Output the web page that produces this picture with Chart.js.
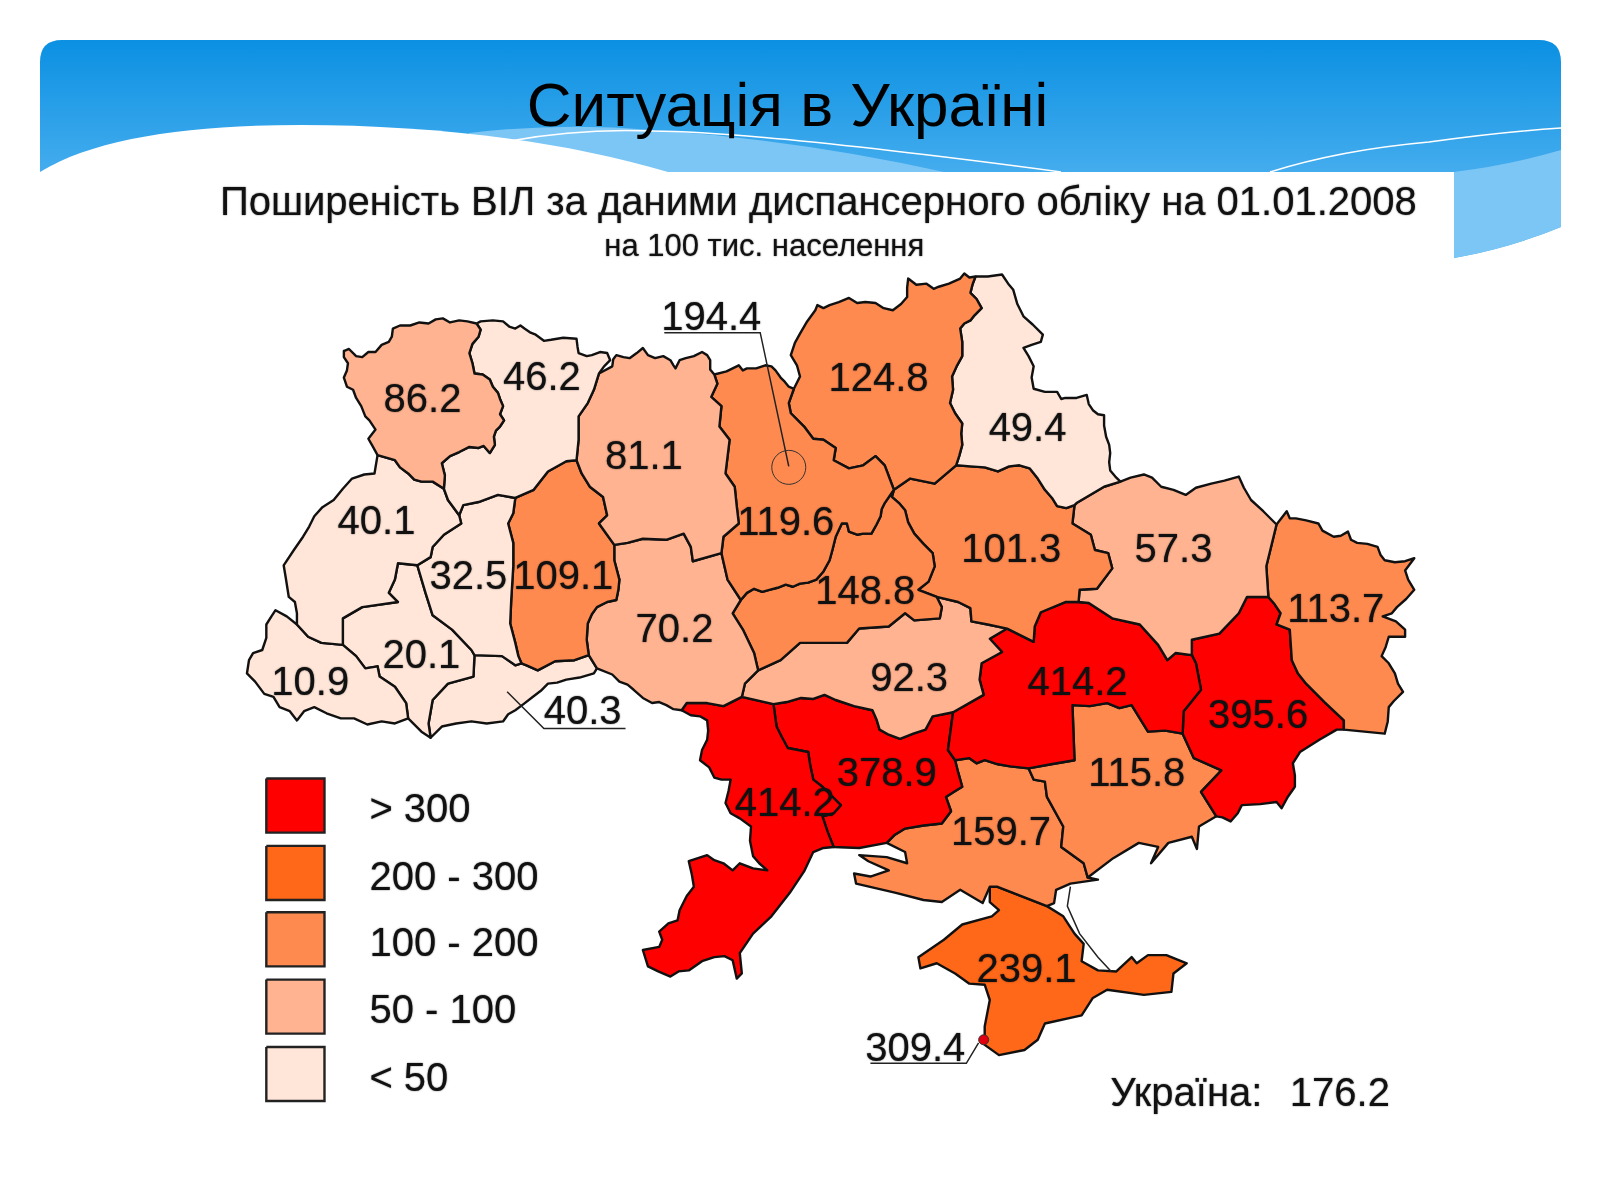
<!DOCTYPE html>
<html lang="uk">
<head>
<meta charset="utf-8">
<title>Ситуація в Україні</title>
<script src="https://cdn.jsdelivr.net/npm/chart.js@4"></script>
<style>
    html, body { margin: 0; padding: 0; background: #fff; }
    #stage { position: relative; width: 1600px; height: 1200px; overflow: hidden; }
    #banner, #map { position: absolute; left: 0; top: 0; }
    #title { position: absolute; left: 0; width: 1575px; top: 69px; text-align: center; color: #000;
             font: 62px "Liberation Sans", Arial, sans-serif; }
</style>
</head>
<body>
<div id="stage">
    <svg id="banner" width="1600" height="1200" viewBox="0 0 1600 1200">
        <defs>
            <linearGradient id="sky" x1="0" y1="40" x2="0" y2="175" gradientUnits="userSpaceOnUse">
                <stop offset="0" stop-color="#0b90e2"/>
                <stop offset="1" stop-color="#45adee"/>
            </linearGradient>
        </defs>
        <!-- fond bleu -->
        <path fill="url(#sky)" d="M40 172 V62 Q40 40 62 40 H1539 Q1561 40 1561 62 V227 Q1510 248 1454 258 V172 Z"/>
        <!-- vagues claires -->
        <path fill="#7cc6f5" d="M469 133 Q560 122 653 130 Q800 140 944 172 H469 Z"/>
        <path fill="#7cc6f5" d="M1454 172 Q1510 165 1561 150 V227 Q1510 248 1454 258 Z"/>
        <path fill="none" stroke="#fff" stroke-width="1.5" d="M510 141 Q580 128 653 131 Q760 132 1061 172"/>
        <path fill="none" stroke="#fff" stroke-width="1.5" d="M1270 172 Q1340 150 1429 142 Q1500 132 1561 128"/>
        <path fill="#fff" d="M40 172 C95 138 190 125 301 125 C430 125 560 140 668 172 Z"/>
        <rect x="40" y="172" width="1414" height="90" fill="#fff"/>
    </svg>
    <div id="title">Ситуація в Україні</div>
    <canvas id="map" width="1600" height="1200"></canvas>
</div>

<script>
const regionNames = ['Volyn', 'Rivne', 'Zhytomyr', 'Kyiv', 'Chernihiv', 'Sumy', 'Lviv', 'Ternopil', 'Khmelnytskyi',
    'Vinnytsia', 'Cherkasy', 'Poltava', 'Kharkiv', 'Luhansk', 'Zakarpattia', 'Ivano-Frankivsk', 'Chernivtsi',
    'Kirovohrad', 'Dnipropetrovsk', 'Donetsk', 'Odesa', 'Mykolaiv', 'Zaporizhzhia', 'Kherson', 'Crimea'];
const regionValues = [86.2, 46.2, 81.1, 119.6, 124.8, 49.4, 40.1, 32.5, 109.1,
    70.2, 148.8, 101.3, 57.3, 113.7, 10.9, 20.1, 40.3,
    92.3, 414.2, 395.6, 414.2, 378.9, 115.8, 159.7, 239.1];
const kyivCityValue = 194.4;
const sevastopolValue = 309.4;
const ukraineValue = 176.2;
const legendLabels = ['> 300', '200 - 300', '100 - 200', '50 - 100', '< 50'];
const binFloors = [300, 200, 100, 50, 0];
const binColors = ['#ff0000', '#ff6719', '#ff8a50', '#ffb391', '#ffe6d9'];

// Géométrie : frontières partagées (repère de la carte, 1568 x 1176)
const arcs = {
    vn: [[467,317],[458,315],[450,314],[441,316],[434,312],[427,313],[420,317],[411,316],[402,319],[392,319],[385,322],[384,330],[381,335],[374,338],[368,345],[361,345],[355,350],[349,349],[342,342],[337,344],[337,350],[341,356],[340,363],[337,370],[340,379],[346,382],[349,390],[354,398],[358,408],[362,412],[368,421],[361,430],[365,437],[370,446]],
    vr: [[467,317],[471,323],[469,330],[463,337],[460,346],[463,356],[465,366],[473,367],[480,372],[483,379],[488,385],[490,391],[493,398],[490,406],[494,412],[490,418],[486,422],[484,428],[485,436],[480,444],[474,437],[469,439],[460,438],[450,443],[441,447],[433,454],[436,466],[435,479]],
    vl: [[370,446],[387,451],[392,458],[400,464],[406,470],[413,472],[424,472],[435,479]],
    rn: [[467,317],[471,315],[483,314],[493,315],[499,320],[505,322],[510,319],[514,322],[520,326],[525,328],[533,334],[540,333],[552,331],[565,332],[566,340],[567,346],[575,349],[580,348],[588,345],[595,346],[598,353],[592,359],[587,366]],
    rz: [[587,366],[582,382],[576,395],[567,408],[567,431],[565,451]],
    rk: [[565,451],[555,452],[537,462],[523,480],[505,488]],
    rt: [[505,488],[488,485],[469,492],[454,495],[450,505]],
    rl: [[450,505],[439,490],[435,479]],
    zn: [[587,366],[600,359],[601,352],[604,348],[611,350],[617,351],[624,346],[630,341],[635,348],[642,351],[650,349],[657,353],[660,358],[662,361],[666,353],[672,351],[680,349],[688,345],[693,348],[696,353],[696,362],[700,367]],
    zky: [[700,367],[703,376],[697,389],[707,398],[705,418],[715,431],[711,464],[720,477],[722,496],[724,513],[709,526],[707,542]],
    zv: [[707,542],[679,550],[677,536],[670,523],[653,529],[630,528],[615,532],[602,534]],
    zk: [[565,451],[570,464],[578,477],[591,487],[595,505],[587,513],[602,534]],
    kt: [[505,488],[503,503],[498,513],[503,532],[503,555],[501,588],[500,611],[505,630],[508,643],[511,650]],
    kv: [[602,534],[602,549],[607,568],[606,578],[604,588],[595,590],[585,595],[580,602],[576,611],[575,627],[577,642]],
    kc: [[577,642],[563,647],[544,648],[527,657],[516,652],[511,650]],
    tl: [[450,505],[452,513],[435,524],[424,536],[422,546],[409,554]],
    tf: [[409,554],[417,581],[424,603],[443,617],[462,637],[465,642]],
    tc: [[465,642],[492,643],[505,652],[511,650]],
    lf: [[409,554],[390,552],[387,568],[381,581],[390,590],[355,595],[336,606],[336,632]],
    lz: [[291,612],[302,624],[315,630],[336,632]],
    lw: [[370,446],[367,464],[357,465],[345,469],[336,479],[327,490],[316,497],[308,506],[303,516],[297,526],[288,539],[278,554],[280,566],[283,585],[289,590],[291,601],[291,612]],
    zko: [[291,612],[281,604],[270,598],[266,604],[261,612],[261,625],[257,637],[248,640],[244,647],[242,660],[250,668],[259,680],[268,683],[274,693],[284,697],[291,706],[298,697],[308,693],[320,699],[334,704],[347,704],[360,710],[374,707],[387,709],[400,704]],
    zf: [[336,632],[349,643],[358,655],[370,653],[372,663],[387,673],[398,689],[400,704]],
    fc: [[465,642],[464,663],[439,670],[424,686],[420,709],[422,723]],
    fb: [[400,704],[413,717],[422,723]],
    co: [[422,723],[433,712],[447,709],[462,707],[477,709],[493,707],[498,700],[505,696],[513,690],[522,683],[530,677],[537,670],[546,669],[555,666],[568,664],[582,660],[585,655]],
    cv: [[577,642],[585,655]],
    vo: [[585,655],[600,661],[607,668],[615,671],[621,676],[630,684],[639,689],[646,688],[653,691],[660,695],[668,696]],
    vod: [[668,696],[673,689],[693,689],[709,692],[727,683]],
    vkr: [[727,683],[730,670],[743,657]],
    vck: [[726,588],[718,601],[728,617],[739,640],[743,657]],
    kyv: [[707,542],[713,568],[726,588]],
    kyn: [[700,367],[712,364],[724,358],[728,363],[732,361],[741,361],[750,358],[756,359],[760,363],[765,370],[769,374],[773,379],[778,381]],
    kych: [[778,381],[773,395],[775,405],[788,418],[797,430],[807,431],[819,439],[817,451],[832,459],[846,456],[858,447],[867,456],[876,480]],
    kyc: [[726,588],[732,581],[739,577],[747,580],[754,578],[762,576],[770,573],[777,575],[784,572],[792,571],[800,568],[807,560],[813,549],[816,538],[819,526],[825,513],[830,513],[832,521],[840,524],[846,523],[854,523],[859,514],[863,506],[864,499],[867,493],[876,480]],
    chn: [[778,381],[784,369],[781,358],[775,348],[779,336],[784,327],[791,315],[799,304],[801,299],[807,302],[813,299],[822,296],[832,292],[840,297],[848,296],[858,297],[866,302],[875,304],[883,298],[889,291],[889,282],[890,273],[898,279],[908,278],[915,283],[920,281],[930,278],[941,273],[945,268],[950,272],[956,271]],
    chs: [[956,271],[953,279],[951,287],[957,293],[962,302],[955,309],[951,314],[945,317],[941,322],[943,335],[943,349],[938,358],[933,369],[934,382],[931,395],[936,405],[943,415],[942,425],[943,436],[940,447],[937,456]],
    chp: [[937,456],[916,474],[892,469],[876,480]],
    su: [[956,271],[968,271],[982,269],[988,278],[993,284],[997,298],[1003,310],[1012,318],[1022,328],[1020,335],[1011,338],[1003,341],[1008,349],[1013,359],[1011,370],[1013,381],[1024,384],[1036,384],[1040,391],[1044,390],[1055,390],[1065,387],[1067,396],[1071,402],[1076,406],[1082,407],[1082,417],[1084,428],[1087,436],[1088,444],[1087,453],[1088,461],[1093,467],[1098,472]],
    skh: [[1098,472],[1082,477],[1055,493],[1053,495]],
    spo: [[1053,495],[1045,498],[1036,496],[1031,488],[1024,480],[1017,469],[1009,459],[999,456],[989,457],[978,462],[965,458],[951,457],[937,456]],
    pkh: [[1053,495],[1051,513],[1069,524],[1073,539],[1086,542],[1090,557],[1075,577],[1058,578],[1057,590]],
    pd: [[1057,590],[1044,590],[1020,600],[1014,614],[1013,629],[987,616]],
    pk: [[987,616],[968,612],[952,609],[951,596],[939,590],[918,585]],
    pc: [[876,480],[874,487],[881,493],[887,500],[890,512],[896,523],[905,533],[914,542],[916,555],[910,570],[900,578],[918,585]],
    ckk: [[918,585],[923,595],[921,606],[896,608],[887,601],[871,614],[842,616],[830,630],[807,630],[784,630],[765,647],[743,657]],
    krd: [[987,616],[970,626],[982,639],[962,650],[960,666],[964,681],[934,698]],
    krm: [[934,698],[914,702],[907,715],[895,719],[882,724],[871,720],[862,715],[859,705],[855,696],[837,692],[819,686],[808,681],[797,685],[785,684],[771,688],[758,690]],
    kro: [[758,690],[727,683]],
    omy: [[758,690],[761,712],[766,722],[772,733],[782,735],[792,737],[794,750],[797,764],[806,771],[824,789],[817,797],[806,800],[811,815],[817,830]],
    oc: [[668,696],[677,701],[686,702],[693,706],[694,716],[693,725],[688,735],[686,745],[695,752],[700,762],[707,764],[716,764],[714,775],[711,787],[716,797],[725,802],[736,810],[735,824],[738,839],[744,846],[752,853],[738,851],[725,846],[718,853],[709,846],[700,843],[693,838],[675,844],[678,857],[680,869],[673,878],[666,892],[664,902],[655,905],[646,913],[649,921],[646,928],[630,931],[635,947],[645,952],[657,957],[665,952],[675,951],[688,942],[700,938],[710,937],[718,941],[722,959],[727,954],[725,934],[738,915],[756,898],[774,875],[788,854],[797,835],[807,831],[817,830]],
    myc: [[817,830],[842,831],[869,826]],
    myh: [[869,826],[877,818],[887,812],[905,809],[923,807],[932,795],[927,781],[935,776],[943,771],[939,757],[936,745]],
    myd: [[936,745],[929,735],[934,698]],
    dh: [[936,745],[950,743],[957,748],[965,745],[978,749],[990,751],[1008,753]],
    dz: [[1008,753],[1030,749],[1053,745],[1052,718],[1051,691],[1068,692],[1085,689],[1097,694],[1109,691],[1117,704],[1125,717],[1142,716],[1159,719]],
    ddo: [[1159,719],[1160,697],[1177,676],[1172,650],[1168,642]],
    dkh: [[1168,642],[1152,640],[1144,647],[1135,632],[1117,612],[1090,606],[1067,591],[1057,590]],
    kho: [[1098,472],[1108,468],[1121,465],[1129,468],[1138,477],[1150,480],[1162,485],[1172,478],[1187,474],[1200,471],[1214,467],[1219,478],[1226,490],[1238,501],[1251,514]],
    khl: [[1251,514],[1241,555],[1243,585]],
    khd: [[1243,585],[1222,585],[1214,601],[1195,621],[1168,627],[1168,642]],
    lo: [[1251,514],[1261,501],[1264,508],[1270,508],[1280,510],[1292,513],[1296,520],[1307,526],[1314,525],[1321,521],[1324,529],[1330,532],[1340,533],[1350,536],[1353,544],[1357,549],[1367,551],[1377,550],[1386,547],[1377,559],[1380,568],[1386,578],[1378,587],[1369,595],[1364,601],[1355,604],[1368,609],[1377,617],[1377,624],[1361,624],[1358,634],[1354,643],[1361,650],[1367,660],[1370,670],[1375,678],[1366,687],[1361,693],[1360,707],[1357,719],[1337,717],[1317,715]],
    ld: [[1317,715],[1317,706],[1298,688],[1280,670],[1272,660],[1266,647],[1265,632],[1264,617],[1251,612],[1255,601],[1249,592],[1243,585]],
    doc: [[1317,715],[1310,715],[1293,725],[1274,737],[1267,748],[1269,760],[1269,771],[1262,781],[1256,792],[1251,786],[1235,788],[1217,789],[1213,797],[1206,805],[1198,801],[1192,800]],
    dzp: [[1192,800],[1177,776],[1197,755],[1170,743],[1159,719]],
    zc: [[1192,800],[1175,810],[1173,832],[1168,820],[1145,826],[1128,846],[1135,830],[1116,826],[1091,841],[1066,860]],
    zh: [[1066,860],[1062,846],[1040,830],[1042,810],[1026,781],[1024,766],[1013,764],[1008,753]],
    hc: [[869,826],[887,835],[889,846],[869,840],[842,838],[851,844],[871,853],[853,859],[837,856],[839,866],[878,875],[905,882],[923,884],[941,872],[963,885],[970,869]],
    hcr: [[970,869],[977,869],[1026,888]],
    he: [[1026,888],[1033,885],[1035,872],[1049,866],[1076,862],[1066,860]],
    cr: [[1026,888],[1042,898],[1053,915],[1062,925],[1060,942],[1076,951],[1094,952],[1109,938],[1114,944],[1125,936],[1143,936],[1163,944],[1150,954],[1148,972],[1121,975],[1085,970],[1071,978],[1060,995],[1024,1003],[1017,1019],[1004,1029],[979,1034],[965,1024],[965,1006],[970,980],[965,965],[950,964],[936,954],[918,944],[902,949],[900,938],[925,921],[943,906],[972,898],[979,892],[970,884],[970,869]]
};

// Contour de chaque région : suite de frontières, "~" = sens inverse
const regionRings = [
    'vn vl ~vr',
    'rn rz rk rt rl ~vr',
    'zn zky zv ~zk ~rz',
    'kyn kych ~kyc ~kyv ~zky',
    'chn chs chp ~kych',
    'su skh spo ~chs',
    'lw lz ~lf ~tl rl ~vl',
    'rt tl tf tc ~kt',
    'zk kv kc ~kt ~rk',
    '~zv kyv vck ~vkr ~vod ~vo ~cv ~kv',
    'kyc pc ckk ~vck',
    '~chp ~spo pkh pd pk ~pc',
    'kho khl khd dkh ~pkh ~skh',
    'lo ld ~khl',
    'zko ~zf ~lz',
    'tf fc ~fb ~zf ~lf',
    'tc ~kc cv ~co ~fc',
    '~ckk ~pk krd krm kro vkr',
    'pd krd ~myd dh dz ddo dkh',
    '~ld doc dzp ddo ~khd',
    'oc ~omy kro ~vod',
    '~krm ~myd ~myh ~myc ~omy',
    'dz ~dzp zc zh',
    '~myh hc hcr he zh ~dh',
    'hcr cr'
];

// Emplacements des textes et repères
const labelAnchors = [[414,390],[531,368],[631,446],[770,511],[861,369],[1007,418],[369,510],[459,563],[552,563],
    [661,615],[848,578],[991,537],[1150,537],[1309,596],[304,667],[413,641],[571,696],
    [891,663],[1056,667],[1233,700],[769,786],[869,757],[1114,757],[981,814],[1006,949]];
const kyivLeader = [[651,326],[745,326],[773,457]];
const kyivCircle = [773, 458];
const westLeader = [[497,678],[533,714],[613,714]];
const sevastopolLeader = [[959,1022],[947,1042],[853,1042]];
const sevastopolDot = [964, 1019];
const arabatSpit = [[1049,869],[1046,888],[1058,915],[1076,938],[1089,952]];
const legendTops = [763, 829, 894, 960, 1026];

function colorFor(value) {
    return binColors[binFloors.findIndex(floor => value >= floor)];
}

function buildRing(spec) {
    const points = [];
    spec.split(' ').forEach(name => {
        const reversed = name[0] === '~';
        const arc = arcs[reversed ? name.slice(1) : name];
        const coords = reversed ? arc.slice().reverse() : arc;
        coords.forEach(([x, y]) => points.push({ x, y }));
    });
    return points;
}

function toPoints(list) {
    return list.map(([x, y]) => ({ x, y }));
}

function lineDataset(list, width) {
    return { data: toPoints(list), showLine: true, fill: false, borderColor: '#222', borderWidth: width,
             pointRadius: 0, tension: 0 };
}

const datasets = [
    { data: toPoints([sevastopolDot]), pointRadius: 5, pointBackgroundColor: '#e00010', pointBorderColor: '#333', pointBorderWidth: 1 },
    { data: toPoints([kyivCircle]), pointRadius: 17, pointBackgroundColor: 'rgba(0,0,0,0)', pointBorderColor: '#333', pointBorderWidth: 1 },
    lineDataset(kyivLeader, 1.5),
    lineDataset(westLeader, 1.5),
    lineDataset(sevastopolLeader, 1.5),
    lineDataset(arabatSpit, 1.5)
];

legendTops.forEach((top, i) => {
    datasets.push({
        data: [{ x: 261, y: top }, { x: 318, y: top }, { x: 318, y: top + 53 }, { x: 261, y: top + 53 }, { x: 261, y: top }],
        showLine: true, fill: 'shape', backgroundColor: binColors[i], borderColor: '#222', borderWidth: 2.4,
        pointRadius: 0, tension: 0
    });
});

regionNames.forEach((name, i) => {
    datasets.push({
        label: name,
        data: buildRing(regionRings[i]),
        showLine: true, fill: 'shape', backgroundColor: colorFor(regionValues[i]), borderColor: '#111', borderWidth: 2.4,
        borderJoinStyle: 'round', pointRadius: 0, tension: 0
    });
});

// Textes de la carte, placés par les échelles
const mapTexts = {
    id: 'mapTexts',
    afterDatasetsDraw(chart) {
        const { ctx, scales: { x, y } } = chart;
        const put = (text, px, py, size, align) => {
            ctx.font = size + 'px "Liberation Sans", Arial, sans-serif';
            ctx.textAlign = align || 'center';
            ctx.textBaseline = 'middle';
            ctx.fillStyle = '#111';
            ctx.fillText(text, x.getPixelForValue(px), y.getPixelForValue(py) + 3);
        };
        ctx.save();
        // léger flou, comme l'image d'origine
        ctx.shadowColor = 'rgba(0,0,0,0.7)';
        ctx.shadowBlur = 1.5;
        put('Поширеність ВІЛ за даними диспансерного обліку на 01.01.2008', 802, 197, 40);
        put('на 100 тис. населення', 749, 240, 31);
        regionValues.forEach((value, i) => {
            put(value.toFixed(1), labelAnchors[i][0], labelAnchors[i][1], 40);
        });
        put(kyivCityValue.toFixed(1), 697, 310, 40);
        put(sevastopolValue.toFixed(1), 897, 1026, 40);
        legendLabels.forEach((label, i) => {
            put(label, 362, legendTops[i] + 29, 40, 'left');
        });
        put('Україна:', 1088, 1070, 40, 'left');
        put(ukraineValue.toFixed(1), 1264, 1070, 40, 'left');
        ctx.restore();
    }
};

new Chart(document.getElementById('map'), {
    type: 'scatter',
    data: { datasets },
    options: {
        responsive: false,
        animation: false,
        devicePixelRatio: 1,
        layout: { padding: 0, autoPadding: false },
        plugins: { legend: { display: false }, tooltip: { enabled: false }, title: { display: false } },
        scales: {
            x: { type: 'linear', min: 0, max: 1568, display: false },
            y: { type: 'linear', min: 0, max: 1176, reverse: true, display: false }
        }
    },
    plugins: [mapTexts]
});
</script>
</body>
</html>
